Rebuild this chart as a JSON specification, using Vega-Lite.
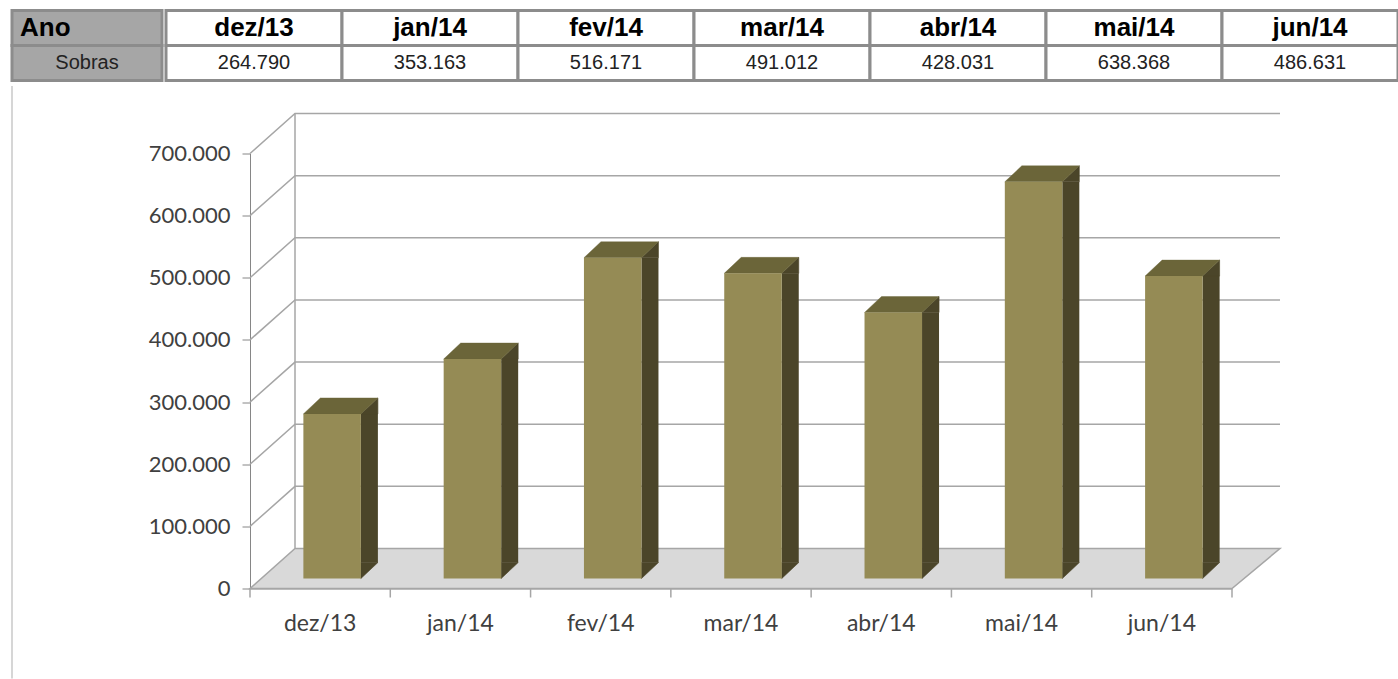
{
  "$schema": "https://vega.github.io/schema/vega-lite/v6.json",
  "padding": {"left": 9, "top": 8.5, "right": 0, "bottom": 0},
  "background": "white",
  "spacing": 0,
  "datasets": {
    "sobras": [
      {"mes": "dez/13", "v": 264790},
      {"mes": "jan/14", "v": 353163},
      {"mes": "fev/14", "v": 516171},
      {"mes": "mar/14", "v": 491012},
      {"mes": "abr/14", "v": 428031},
      {"mes": "mai/14", "v": 638368},
      {"mes": "jun/14", "v": 486631}
    ],
    "linhas": [{"r": "Ano"}, {"r": "Sobras"}],
    "grade": [{"g": 100000}, {"g": 200000}, {"g": 300000}, {"g": 400000}, {"g": 500000}, {"g": 600000}, {"g": 700000}],
    "base": [{"k": "piso"}]
  },
  "vconcat": [
    {
      "spacing": 0,
      "hconcat": [
        {
          "width": 150,
          "height": 70,
          "data": {"name": "linhas"},
          "encoding": {"y": {"field": "r", "type": "nominal", "axis": null, "title": null, "scale": {"domain": ["Ano", "Sobras"], "paddingInner": 0, "paddingOuter": 0}}},
          "layer": [
            {"mark": {"type": "rect", "fill": "#a6a6a6", "stroke": "#8c8c8c", "strokeWidth": 3}},
            {
              "transform": [{"filter": "datum.r == 'Ano'"}],
              "mark": {"type": "text", "font": "Liberation Sans", "fontSize": 26, "fontWeight": "bold", "align": "left", "dx": -67, "color": "#000000"},
              "encoding": {"text": {"field": "r"}}
            },
            {
              "transform": [{"filter": "datum.r == 'Sobras'"}],
              "mark": {"type": "text", "font": "Liberation Sans", "fontSize": 20, "align": "center", "color": "#222222"},
              "encoding": {"text": {"field": "r"}}
            }
          ]
        },
        {
          "width": 1232,
          "height": 70,
          "data": {"name": "sobras"},
          "encoding": {"x": {"field": "mes", "type": "nominal", "axis": null, "title": null, "scale": {"domain": ["dez/13", "jan/14", "fev/14", "mar/14", "abr/14", "mai/14", "jun/14"], "paddingInner": 0, "paddingOuter": 0}}},
          "layer": [
            {
              "mark": {"type": "rect", "fill": "white", "stroke": "#8c8c8c", "strokeWidth": 3},
              "encoding": {"y": {"datum": "Ano", "type": "nominal", "axis": null, "title": null, "scale": {"domain": ["Ano", "Sobras"], "paddingInner": 0, "paddingOuter": 0}}}
            },
            {
              "mark": {"type": "rect", "fill": "white", "stroke": "#8c8c8c", "strokeWidth": 3},
              "encoding": {"y": {"datum": "Sobras", "type": "nominal", "axis": null, "title": null}}
            },
            {
              "mark": {"type": "text", "font": "Liberation Sans", "fontSize": 26, "fontWeight": "bold", "color": "#000000"},
              "encoding": {"y": {"datum": "Ano", "type": "nominal", "axis": null, "title": null}, "text": {"field": "mes"}}
            },
            {
              "mark": {"type": "text", "font": "Liberation Sans", "fontSize": 20, "color": "#222222"},
              "encoding": {"y": {"datum": "Sobras", "type": "nominal", "axis": null, "title": null}, "text": {"field": "v", "type": "quantitative", "format": ",.0f"}}
            }
          ]
        }
      ]
    },
    {
      "spacing": -4,
      "hconcat": [
        {
          "width": 1,
          "height": 1,
          "data": {"name": "base"},
          "mark": {"type": "rect", "opacity": 0}
        },
        {
          "width": 982,
          "height": 435,
          "layer": [
            {
              "data": {"name": "base"},
              "mark": {"type": "point", "shape": "M-308.14,90L-308.14,-502.5", "size": 4, "filled": false, "stroke": "#c8c8c8", "strokeWidth": 1.5, "opacity": 1},
              "encoding": {
                "x": {"datum": "dez/13", "type": "nominal", "title": null, "scale": {"domain": ["dez/13", "jan/14", "fev/14", "mar/14", "abr/14", "mai/14", "jun/14"], "paddingInner": 0, "paddingOuter": 0}},
                "y": {"datum": 0, "type": "quantitative", "title": null}
              }
            },
            {
              "data": {"name": "base"},
              "mark": {"type": "point", "shape": "M-70.14,0L911.86,0L959.86,-40L-25.14,-40ZM-25.14,-40L-25.14,-475M-70.14,0L-70.14,9M70.14,0L70.14,9M210.43,0L210.43,9M350.71,0L350.71,9M491,0L491,9M631.29,0L631.29,9M771.57,0L771.57,9M911.86,0L911.86,9", "size": 4, "filled": true, "fill": "#d9d9d9", "stroke": "#a6a6a6", "strokeWidth": 1.5, "opacity": 1},
              "encoding": {
                "x": {"datum": "dez/13", "type": "nominal", "title": null},
                "y": {"datum": 0, "type": "quantitative", "title": null}
              }
            },
            {
              "data": {"name": "grade"},
              "mark": {"type": "point", "shape": "M-70.14,0L-25.14,-40L959.86,-40", "size": 4, "filled": false, "stroke": "#a6a6a6", "strokeWidth": 1.5, "opacity": 1},
              "encoding": {
                "x": {"datum": "dez/13", "type": "nominal", "title": null},
                "y": {"field": "g", "type": "quantitative", "title": null}
              }
            },
            {
              "data": {"name": "sobras"},
              "mark": {"type": "bar", "width": 17, "xOffset": 49.25, "yOffset": -10, "y2Offset": -26, "fill": "#4b4529"},
              "encoding": {
                "x": {"field": "mes", "type": "nominal", "title": null},
                "y": {"field": "v", "type": "quantitative", "title": null},
                "y2": {"datum": 0}
              }
            },
            {
              "data": {"name": "sobras"},
              "mark": {"type": "point", "shape": "M40.75,-10L57.75,-26L57.75,-10Z", "size": 4, "filled": true, "fill": "#4b4529", "stroke": "#4b4529", "strokeWidth": 0.6, "opacity": 1},
              "encoding": {
                "x": {"field": "mes", "type": "nominal", "title": null},
                "y": {"field": "v", "type": "quantitative", "title": null}
              }
            },
            {
              "data": {"name": "sobras"},
              "mark": {"type": "point", "shape": "M40.75,-10L40.75,-26L57.75,-26Z", "size": 4, "filled": true, "fill": "#4b4529", "stroke": "#4b4529", "strokeWidth": 0.6, "opacity": 1},
              "encoding": {
                "x": {"field": "mes", "type": "nominal", "title": null},
                "y": {"datum": 0, "type": "quantitative", "title": null}
              }
            },
            {
              "data": {"name": "sobras"},
              "mark": {"type": "point", "shape": "M-16.75,-10L40.75,-10L57.75,-26L0.25,-26Z", "size": 4, "filled": true, "fill": "#6b6539", "stroke": "#6b6539", "strokeWidth": 0.4, "opacity": 1},
              "encoding": {
                "x": {"field": "mes", "type": "nominal", "title": null},
                "y": {"field": "v", "type": "quantitative", "title": null}
              }
            },
            {
              "data": {"name": "sobras"},
              "mark": {"type": "bar", "width": {"band": 0.41}, "xOffset": 12, "yOffset": -10, "y2Offset": -10, "fill": "#958b55"},
              "encoding": {
                "x": {
                  "field": "mes", "type": "nominal", "title": null,
                  "scale": {"domain": ["dez/13", "jan/14", "fev/14", "mar/14", "abr/14", "mai/14", "jun/14"], "paddingInner": 0, "paddingOuter": 0},
                  "axis": {"title": null, "tickSize": 9, "tickColor": "transparent", "labelAlign": "center", "labelPadding": 26, "labelFont": "Lato", "labelFontSize": 23, "labelColor": "#404040", "domainColor": "#868686", "labelAngle": 0, "grid": false}
                },
                "y": {
                  "field": "v", "type": "quantitative", "title": null,
                  "scale": {"domain": [0, 700000], "nice": false},
                  "axis": {"title": null, "values": [0, 100000, 200000, 300000, 400000, 500000, 600000, 700000], "format": ",.0f", "tickSize": 8, "labelPadding": 12, "labelFont": "Lato", "labelFontSize": 22, "labelColor": "#404040", "domainColor": "#868686", "tickColor": "#868686", "grid": false}
                },
                "y2": {"datum": 0}
              }
            }
          ]
        }
      ]
    }
  ],
  "config": {
    "view": {"stroke": null},
    "locale": {"number": {"decimal": ",", "thousands": ".", "grouping": [3], "currency": ["R$", ""]}}
  }
}
